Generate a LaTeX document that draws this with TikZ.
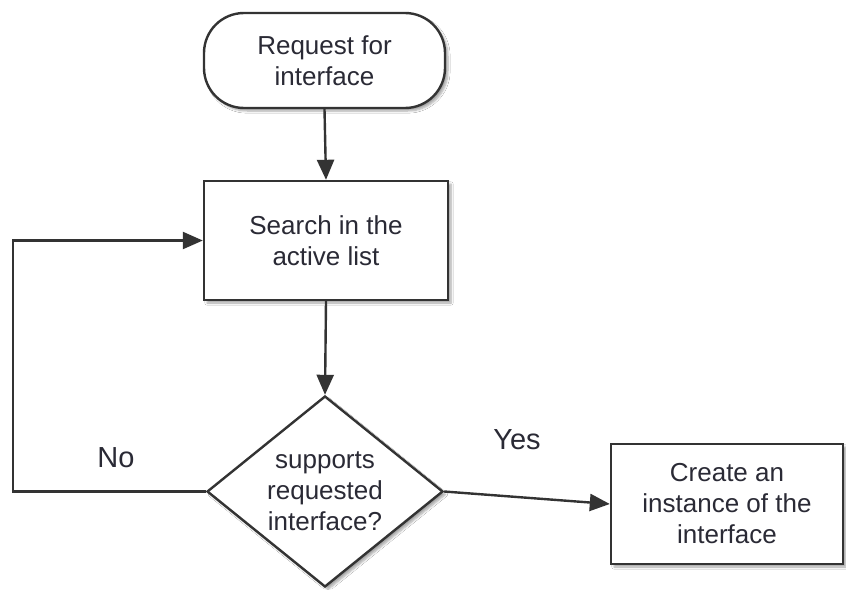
\documentclass[tikz,border=0pt]{standalone}
\usepackage{fontspec}
\setmainfont{Liberation Sans}
\usetikzlibrary{shapes.geometric,arrows.meta,shadows.blur}
\definecolor{edge}{HTML}{333333}
\definecolor{ink}{HTML}{2A2A35}
\tikzset{
  boxshadow/.style={blur shadow={shadow xshift=3pt,shadow yshift=-3pt,shadow blur steps=6,shadow opacity=35}},
  flowtext/.style={text=ink,font=\fontsize{26}{31}\selectfont,align=center},
  terminal/.style={draw=edge,line width=2.4pt,fill=white,rounded corners=40pt,boxshadow,flowtext,
    minimum width=241pt,minimum height=95pt,inner sep=0pt},
  process/.style={draw=edge,line width=2.4pt,fill=white,rectangle,boxshadow,flowtext,
    minimum width=244pt,minimum height=119pt,inner sep=0pt},
  decision/.style={draw=edge,line width=2.4pt,fill=white,diamond,aspect=1.3,boxshadow,flowtext,
    minimum width=236pt,minimum height=191pt,inner sep=0pt},
  flow/.style={draw=edge,line width=2.4pt,-{Triangle[length=20pt,width=17pt]}},
  branch/.style={text=ink,font=\fontsize{29}{34}\selectfont}
}
\begin{document}
\begin{tikzpicture}[x=1pt,y=-1pt]
  \useasboundingbox[fill=white] (0,0) rectangle (846,589);

  \node[terminal] (req) at (324.5,60.5) {Request for\\interface};
  \node[process]  (search) at (326,240.5) {Search in the\\active list};
  \node[decision] (dec) at (325,491.5) {supports\\requested\\interface?};
  \node[process, minimum width=232pt, minimum height=120pt] (create) at (727,504)
    {Create an\\instance of the\\interface};

  \coordinate (loopbot) at (13,491.5);
  \coordinate (looptop) at (13,240.5);

  \draw[flow] (req.south) -- (search.north);
  \draw[flow] (search.south) -- (dec.north);
  \draw[flow] (dec.west) -- (loopbot) -- (looptop) -- (search.west);
  \draw[flow] (dec.east) -- (create.west);

  \node[branch] (no)  at (116,458) {No};
  \node[branch] (yes) at (517,440) {Yes};
\end{tikzpicture}
\end{document}
